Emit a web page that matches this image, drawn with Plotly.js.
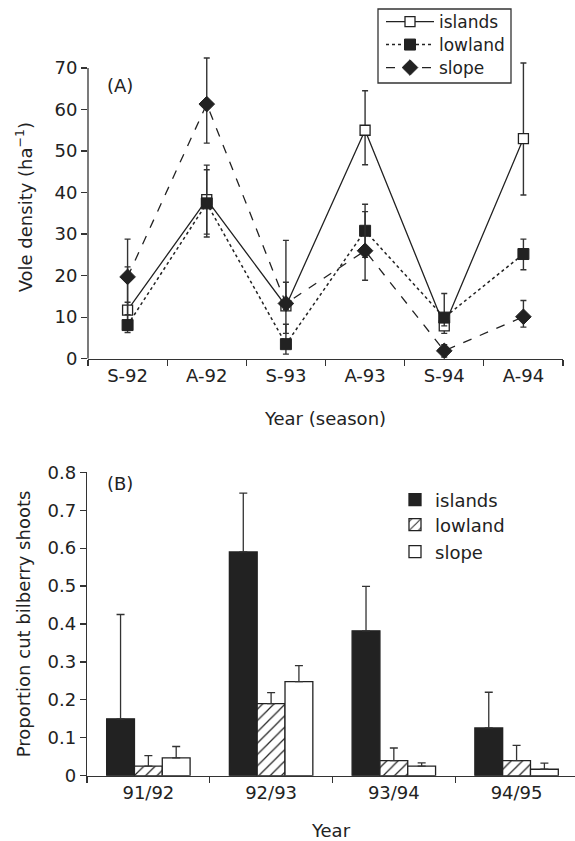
<!DOCTYPE html>
<html>
<head>
<meta charset="utf-8">
<script src="https://cdn.plot.ly/plotly-3.0.1.min.js"></script>
<style>html,body{margin:0;padding:0;background:#fff;}#chart{width:575px;height:841px;}</style>
</head>
<body>
<div id="chart"></div>
<script>
// ---------- Panel A data ----------
const seasons = ['S-92', 'A-92', 'S-93', 'A-93', 'S-94', 'A-94'];
const islandsA = [11.7, 38.3, 12.7, 55.0, 7.9, 53.0];
const lowlandA = [8.1, 37.4, 3.5, 30.8, 9.9, 25.2];
const slopeA = [19.7, 61.3, 13.3, 26.0, 1.9, 10.1];
const islandsAErrPlus = [10.4, 8.3, 5.7, 9.5, 1.8, 18.2];
const islandsAErrMinus = [3.5, 8.3, 6.6, 8.3, 1.8, 13.6];
const lowlandAErrPlus = [5.5, 8.1, 4.8, 6.4, 5.8, 3.6];
const lowlandAErrMinus = [1.8, 8.1, 2.4, 6.4, 2.0, 3.8];
const slopeAErrPlus = [9.1, 11.1, 15.2, 9.4, 1.5, 3.9];
const slopeAErrMinus = [9.1, 9.4, 1.5, 7.1, 1.5, 2.5];

// ---------- Panel B data ----------
const years = ['91/92', '92/93', '93/94', '94/95'];
const islandsB = [0.150, 0.590, 0.382, 0.126];
const islandsBErr = [0.275, 0.155, 0.117, 0.094];
const lowlandB = [0.025, 0.190, 0.040, 0.040];
const lowlandBErr = [0.028, 0.029, 0.033, 0.040];
const slopeB = [0.047, 0.248, 0.025, 0.017];
const slopeBErr = [0.030, 0.042, 0.009, 0.016];

const INK = '#222';
const FONT = 'DejaVu Sans, Liberation Sans, Arial, sans-serif';
const FS = 18;
const W = 575, H = 841;
const px = v => v / W;          // horizontal pixel -> paper
const py = v => 1 - v / H;      // vertical pixel (from top) -> paper

function errA(plus, minus) {
  return {type: 'data', symmetric: false, array: plus, arrayminus: minus,
          color: '#333', thickness: 1.4, width: 3};
}
function errB(plus) {
  return {type: 'data', symmetric: false, array: plus, arrayminus: plus.map(() => 0),
          color: '#333', thickness: 1.3, width: 4};
}

const traces = [
  {x: seasons, y: islandsA, name: 'islands', type: 'scatter', mode: 'lines+markers',
   xaxis: 'x', yaxis: 'y', legend: 'legend2', cliponaxis: false,
   line: {color: INK, width: 1.3, dash: 'solid'},
   marker: {symbol: 'square', size: 10, color: 'white', line: {color: INK, width: 1.3}},
   error_y: errA(islandsAErrPlus, islandsAErrMinus)},
  {x: seasons, y: lowlandA, name: 'lowland', type: 'scatter', mode: 'lines+markers',
   xaxis: 'x', yaxis: 'y', legend: 'legend3', cliponaxis: false,
   line: {color: INK, width: 1.5, dash: 'dot'},
   marker: {symbol: 'square', size: 11, color: INK, line: {color: INK, width: 1}},
   error_y: errA(lowlandAErrPlus, lowlandAErrMinus)},
  {x: seasons, y: slopeA, name: 'slope', type: 'scatter', mode: 'lines+markers',
   xaxis: 'x', yaxis: 'y', legend: 'legend4', cliponaxis: false,
   line: {color: INK, width: 1.3, dash: 'dash'},
   marker: {symbol: 'diamond', size: 12, color: INK, line: {color: INK, width: 1}},
   error_y: errA(slopeAErrPlus, slopeAErrMinus)},

  {x: years, y: islandsB, name: 'islands', type: 'bar', xaxis: 'x2', yaxis: 'y2', legend: 'legend5',
   marker: {color: INK, line: {color: INK, width: 1.3}}, error_y: errB(islandsBErr)},
  {x: years, y: lowlandB, name: 'lowland', type: 'bar', xaxis: 'x2', yaxis: 'y2', legend: 'legend6',
   marker: {color: 'white', line: {color: INK, width: 1.3},
            pattern: {shape: '/', fgcolor: INK, bgcolor: 'white', size: 8, solidity: 0.15}},
   error_y: errB(lowlandBErr)},
  {x: years, y: slopeB, name: 'slope', type: 'bar', xaxis: 'x2', yaxis: 'y2', legend: 'legend7',
   marker: {color: 'white', line: {color: INK, width: 1.3}}, error_y: errB(slopeBErr)}
];

const axisCommon = {
  showline: true, linecolor: '#333', linewidth: 1.3,
  ticks: 'outside', ticklen: 6, tickwidth: 1.3, tickcolor: '#333',
  showgrid: false, zeroline: false, automargin: false,
  tickfont: {family: FONT, size: FS, color: INK}
};
const titleFont = {family: FONT, size: FS, color: INK};

function legendAt(x, yCenter, itemwidth, fs) {
  return {x: px(x), y: py(yCenter), xanchor: 'left', yanchor: 'middle',
          borderwidth: 0, bgcolor: 'rgba(0,0,0,0)', itemwidth: itemwidth,
          font: {family: FONT, size: fs, color: INK}};
}

const layout = {
  width: W, height: H,
  margin: {l: 0, r: 0, t: 0, b: 0},
  paper_bgcolor: 'white', plot_bgcolor: 'white',
  font: {family: FONT, size: FS, color: INK},
  barmode: 'group', bargap: 0.32, bargroupgap: 0,
  xaxis: Object.assign({}, axisCommon, {
    domain: [px(88), px(563)], anchor: 'y', type: 'category',
    range: [-0.5, 5.5], tickson: 'boundaries',
    title: {text: 'Year (season)', font: titleFont, standoff: 27}
  }),
  yaxis: Object.assign({}, axisCommon, {
    domain: [py(358.7), py(55.5)], anchor: 'x', range: [0, 73], tickvals: [0, 10, 20, 30, 40, 50, 60, 70],
    showline: false,
    title: {text: 'Vole density (ha<sup>−1</sup>)', font: titleFont, standoff: 17}
  }),
  xaxis2: Object.assign({}, axisCommon, {
    domain: [px(87), 1.0], anchor: 'y2', type: 'category',
    range: [-0.5, 3.476], tickson: 'boundaries',
    title: {text: 'Year', font: titleFont, standoff: 22}
  }),
  yaxis2: Object.assign({}, axisCommon, {
    domain: [py(775.7), py(472.3)], anchor: 'x2', range: [0, 0.8], dtick: 0.1,
    title: {text: 'Proportion cut bilberry shoots', font: titleFont, standoff: 12}
  }),
  legend2: legendAt(381, 22, 48, 17),
  legend3: legendAt(381, 45, 48, 17),
  legend4: legendAt(381, 68, 48, 17),
  legend5: legendAt(395, 500, 30, FS),
  legend6: legendAt(395, 525, 30, FS),
  legend7: legendAt(395, 552, 30, FS),
  shapes: [
    // y-axis line of panel A (0 to 70 only)
    {type: 'line', xref: 'paper', yref: 'y', x0: px(88), x1: px(88), y0: 0, y1: 70,
     line: {color: '#333', width: 1.3}},
    // legend frame of panel A
    {type: 'rect', xref: 'paper', yref: 'paper', x0: px(378), x1: px(511), y0: py(83), y1: py(9),
     line: {color: '#333', width: 1.3}, fillcolor: 'rgba(0,0,0,0)', layer: 'above'}
  ],
  annotations: [
    {text: '(A)', xref: 'paper', yref: 'paper', x: px(105), y: py(85),
     xanchor: 'left', yanchor: 'middle', showarrow: false, font: titleFont},
    {text: '(B)', xref: 'paper', yref: 'paper', x: px(105), y: py(483),
     xanchor: 'left', yanchor: 'middle', showarrow: false, font: titleFont}
  ]
};

Plotly.newPlot('chart', traces, layout, {staticPlot: true, displayModeBar: false});
</script>
</body>
</html>
